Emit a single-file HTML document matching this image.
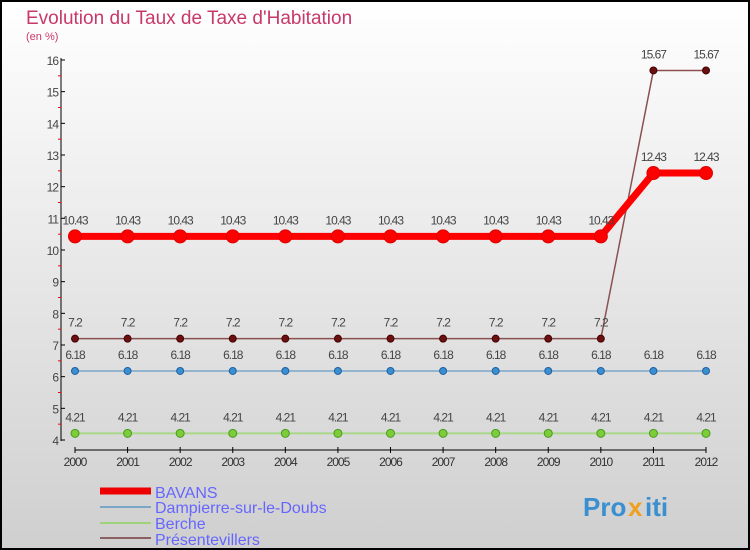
<!DOCTYPE html>
<html><head><meta charset="utf-8"><style>
body{margin:0}
svg{display:block;font-family:"Liberation Sans",sans-serif}
</style></head><body>
<svg id="c" width="750" height="550">
<defs><linearGradient id="bg" x1="0" y1="0" x2="0" y2="1"><stop offset="0" stop-color="#ffffff"/><stop offset="1" stop-color="#cfcfcf"/></linearGradient></defs>
<rect x="1" y="1" width="748" height="548" fill="url(#bg)" stroke="#000" stroke-width="2"/>
<text x="26" y="24" font-size="19" fill="#c8386a">Evolution du Taux de Taxe d'Habitation</text>
<text x="26" y="40" font-size="11" fill="#c8386a">(en %)</text>
<g id="axes"></g><g id="series"></g>
<g>
<line x1="100" y1="491" x2="151" y2="491" stroke="#e00" stroke-width="7"/>
<text x="155" y="498" font-size="16" fill="#6666ff">BAVANS</text>
<line x1="100" y1="507" x2="151" y2="507" stroke="#7aa6c8" stroke-width="2"/>
<text x="155" y="513" font-size="16" fill="#6666ff">Dampierre-sur-le-Doubs</text>
<line x1="100" y1="523" x2="151" y2="523" stroke="#9ed37a" stroke-width="2"/>
<text x="155" y="529" font-size="16" fill="#6666ff">Berche</text>
<line x1="100" y1="538" x2="151" y2="538" stroke="#8b6060" stroke-width="2"/>
<text x="155" y="545" font-size="16" fill="#6666ff">Présentevillers</text>
</g>
<g font-size="26" font-weight="bold">
<text x="583" y="516" fill="#3a8fd0">Pro</text><text x="628" y="516" fill="#f0a020">x</text><text x="645" y="516" fill="#3a8fd0">iti</text>
</g>
</svg>
<script>
const years=[2000,2001,2002,2003,2004,2005,2006,2007,2008,2009,2010,2011,2012];
const bavans=[10.43,10.43,10.43,10.43,10.43,10.43,10.43,10.43,10.43,10.43,10.43,12.43,12.43];
const dampierre=[6.18,6.18,6.18,6.18,6.18,6.18,6.18,6.18,6.18,6.18,6.18,6.18,6.18];
const berche=[4.21,4.21,4.21,4.21,4.21,4.21,4.21,4.21,4.21,4.21,4.21,4.21,4.21];
const presentevillers=[7.2,7.2,7.2,7.2,7.2,7.2,7.2,7.2,7.2,7.2,7.2,15.67,15.67];
const yTicks=[4,5,6,7,8,9,10,11,12,13,14,15,16];
const NS="http://www.w3.org/2000/svg";
const x=i=>75+i*(706-75)/(years.length-1);
const y=v=>440-(v-4)*(440-60)/12;
function mk(tag,at,parent){const e=document.createElementNS(NS,tag);for(const k in at)e.setAttribute(k,at[k]);parent.appendChild(e);return e;}
const ax=document.getElementById('axes');
let l=mk('line',{x1:61,y1:58,x2:61,y2:441,stroke:'#000'},ax);


yTicks.forEach(t=>{
 mk('line',{x1:61,y1:y(t),x2:65,y2:y(t),stroke:'#000'},ax);
 if(t<16)mk('line',{x1:58,y1:y(t+0.5),x2:61,y2:y(t+0.5),stroke:'#f00'},ax);
 const tx=mk('text',{x:58,y:y(t)+5,'text-anchor':'end','font-size':12,fill:'#444','letter-spacing':'-1'},ax);tx.textContent=t;
 
 
});
l=mk('line',{x1:75,y1:450,x2:706,y2:450,stroke:'#000'},ax);


years.forEach((yr,i)=>{
 mk('line',{x1:x(i),y1:447,x2:x(i),y2:453,stroke:'#000'},ax);
 const tx=mk('text',{x:x(i),y:466,'text-anchor':'middle','font-size':12,fill:'#333','letter-spacing':'-1'},ax);tx.textContent=yr;
 
 
});
const sg=document.getElementById('series');
function series(name,vals,color,w,r,dot,dotStroke){
 const g=mk('g',{},sg);
 
 
 const p=mk('polyline',{points:vals.map((v,i)=>x(i)+','+y(v)).join(' '),fill:'none',stroke:color,'stroke-width':w,'stroke-linejoin':'round'},g);
 
 
 vals.forEach((v,i)=>{
  const c=mk('circle',{cx:x(i),cy:y(v),r:r,fill:dot,stroke:dotStroke,'stroke-width':1},g);
  
  
  const t=mk('text',{x:x(i),y:y(v)-12,'text-anchor':'middle','font-size':12,fill:'#444','letter-spacing':'-1'},g);t.textContent=v;
  
  
 });
}
series('berche',berche,'#a8d888',2,4,'#7dcc3a','#4a9a20');
series('dampierre',dampierre,'#7aa6c8',1.5,3.5,'#3a8fd0','#2060a0');
series('presentevillers',presentevillers,'#8b5050',1.5,3.5,'#6a1010','#400');
series('bavans',bavans,'#f00',7,6.5,'#f00','#d00');
</script>
</body></html>
